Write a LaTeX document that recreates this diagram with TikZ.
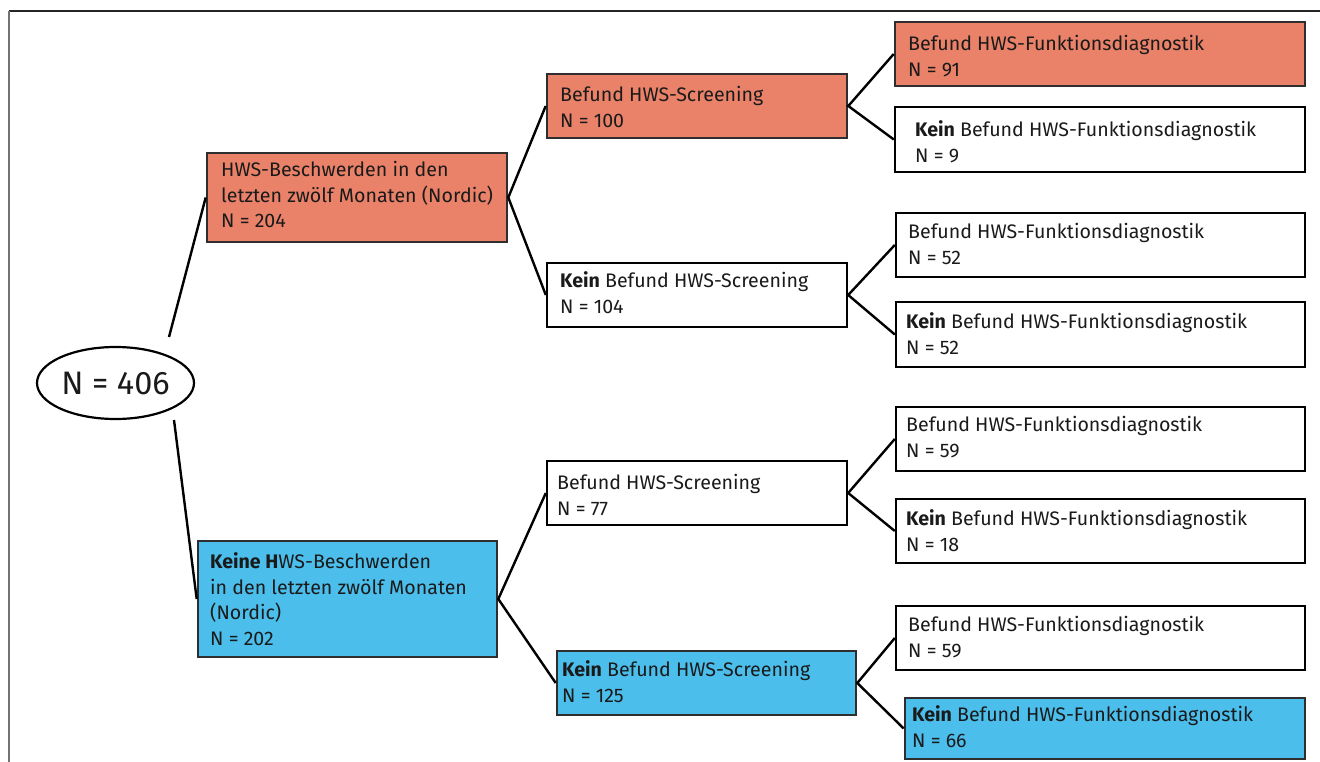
\documentclass[tikz,border=0pt]{standalone}
\usepackage{fontspec}
\setmainfont{Fira Sans}
\usetikzlibrary{shapes.geometric}
\definecolor{salm}{HTML}{E98269}
\definecolor{skyb}{HTML}{4BBEEB}
\definecolor{bord}{HTML}{2E2E2E}
\definecolor{txt}{HTML}{1A1A1A}
\newcommand\stackL[1]{\vtop{\baselineskip=25.7pt\lineskiplimit=-10pt\halign{##\hfil\cr#1\crcr}}}
\begin{document}
\begin{tikzpicture}[x=1pt,y=-1pt,
  box/.style={draw=bord,line width=2.6pt,inner sep=0pt,anchor=center},
  wbox/.style={draw=black,line width=2.4pt,fill=white,inner sep=0pt,anchor=center},
  lbl/.style={anchor=base west,inner sep=0pt,text=txt,font=\fontsize{19.6}{25.7}\selectfont},
  conn/.style={line width=2.4pt,black}]
\useasboundingbox (0,0) rectangle (1320,762);
\fill[white] (0,0) rectangle (1320,762);
% frame
\draw[line width=1.4pt,black!85] (9,11) -- (1320,11);
\draw[line width=2pt,black!55] (9,11) -- (9,762);

% root
\node[ellipse,draw=black,line width=2.2pt,minimum width=157pt,minimum height=72pt,inner sep=0pt,
  font=\fontsize{32.5}{36}\selectfont,text=txt] (R) at (115.5,383) {N = 406};
\coordinate (Rt) at (169,337);
\coordinate (Rb) at (174,420);

% level 1
\node[box,fill=salm,minimum width=300pt,minimum height=89pt] (A) at (357,197.5) {};
\node[box,fill=skyb,minimum width=299pt,minimum height=116pt] (B) at (347.5,599) {};
% level 2
\node[box,fill=salm,minimum width=300pt,minimum height=64pt] (B1) at (697,106) {};
\node[wbox,minimum width=300pt,minimum height=64pt] (B2) at (697,295) {};
\node[wbox,minimum width=300pt,minimum height=64pt] (B3) at (697,493) {};
\node[box,fill=skyb,minimum width=299pt,minimum height=64pt] (B4) at (706.5,683) {};
% level 3
\node[box,fill=salm,minimum width=410pt,minimum height=64pt] (C1) at (1100,54) {};
\node[wbox,minimum width=410pt,minimum height=65pt] (C2) at (1100,139.5) {};
\node[wbox,minimum width=409pt,minimum height=64pt] (C3) at (1100.5,245) {};
\node[wbox,minimum width=409pt,minimum height=65pt] (C4) at (1100.5,334.5) {};
\node[wbox,minimum width=409pt,minimum height=64pt] (C5) at (1100.5,439) {};
\node[wbox,minimum width=409pt,minimum height=64pt] (C6) at (1100.5,531) {};
\node[wbox,minimum width=409pt,minimum height=64pt] (C7) at (1100.5,638) {};
\node[box,fill=skyb,minimum width=400pt,minimum height=61pt] (C8) at (1105,728.5) {};

% connectors
\draw[conn] (Rt) -- (A.west);
\draw[conn] (Rb) -- (B.west);
\draw[conn] (B1.west) -- (A.east) -- (B2.west);
\draw[conn] (B3.west) -- (B.east) -- (B4.west);
\draw[conn] (C1.west) -- (B1.east) -- (C2.west);
\draw[conn] (C3.west) -- (B2.east) -- (C4.west);
\draw[conn] (C5.west) -- (B3.east) -- (C6.west);
\draw[conn] (C7.west) -- (B4.east) -- (C8.west);

% labels
\node[lbl] (tA) at (221,176.5) {\stackL{HWS-Beschwerden in den\cr letzten zwölf Monaten (Nordic)\cr N = 204}};
\node[lbl] (tB) at (210,568.5) {\stackL{\textbf{Keine H}WS-Beschwerden\cr in den letzten zwölf Monaten\cr (Nordic)\cr N = 202}};
\node[lbl] (tB1) at (560,101.5) {\stackL{Befund HWS-Screening\cr N = 100}};
\node[lbl] (tB2) at (560,287.5) {\stackL{\textbf{Kein} Befund HWS-Screening\cr N = 104}};
\node[lbl] (tB3) at (557,489.5) {\stackL{Befund HWS-Screening\cr N = 77}};
\node[lbl] (tB4) at (562,676.5) {\stackL{\textbf{Kein} Befund HWS-Screening\cr N = 125}};
\node[lbl] (tC1) at (908,50.5) {\stackL{Befund HWS-Funktionsdiagnostik\cr N = 91}};
\node[lbl] (tC2) at (915,136.5) {\stackL{\textbf{Kein} Befund HWS-Funktionsdiagnostik\cr N = 9}};
\node[lbl] (tC3) at (908,238.5) {\stackL{Befund HWS-Funktionsdiagnostik\cr N = 52}};
\node[lbl] (tC4) at (906,328.5) {\stackL{\textbf{Kein} Befund HWS-Funktionsdiagnostik\cr N = 52}};
\node[lbl] (tC5) at (906,431.5) {\stackL{Befund HWS-Funktionsdiagnostik\cr N = 59}};
\node[lbl] (tC6) at (906,525.5) {\stackL{\textbf{Kein} Befund HWS-Funktionsdiagnostik\cr N = 18}};
\node[lbl] (tC7) at (908,631.5) {\stackL{Befund HWS-Funktionsdiagnostik\cr N = 59}};
\node[lbl] (tC8) at (912,721.5) {\stackL{\textbf{Kein} Befund HWS-Funktionsdiagnostik\cr N = 66}};
\end{tikzpicture}
\end{document}
